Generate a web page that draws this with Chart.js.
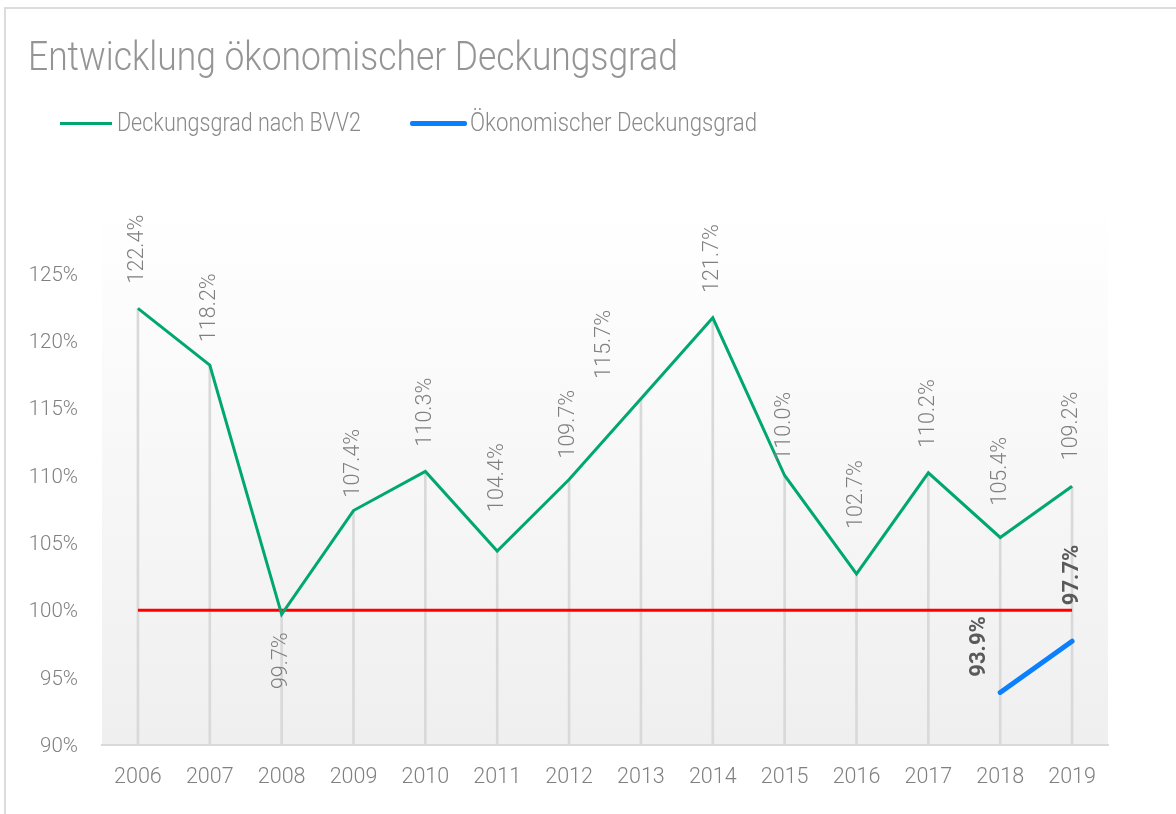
<!DOCTYPE html>
<html><head><meta charset="utf-8">
<script src="https://cdn.jsdelivr.net/npm/chart.js@4.4.1/dist/chart.umd.min.js"></script>
<style>
html,body{margin:0;padding:0;background:#fff;overflow:hidden;}
#wrap{position:relative;width:1176px;height:814px;overflow:hidden;}
#frame{position:absolute;left:4px;top:7px;width:1300px;height:900px;border-top:2px solid #dcdcdc;border-left:2px solid #dcdcdc;}
canvas{position:absolute;left:0;top:0;}
.t{position:absolute;font-family:Roboto,"Open Sans",sans-serif;font-weight:300;white-space:nowrap;transform-origin:0 0;}
#title{left:28px;top:37px;font-size:40px;line-height:40px;color:#959595;}
.lg{top:110px;font-size:25px;line-height:25px;color:#8a8a8a;}
.sw{position:absolute;}
</style></head>
<body><div id="wrap"><div id="frame"></div><canvas id="c" width="1176" height="814"></canvas>
<div id="title" class="t">Entwicklung ökonomischer Deckungsgrad</div>
<div class="sw" style="left:60px;top:122px;width:52px;height:3px;background:#00a870"></div>
<div id="lg1" class="t lg" style="left:117px">Deckungsgrad nach BVV2</div>
<div class="sw" style="left:410px;top:121px;width:57px;height:5px;background:#0a80ff;border-radius:2px"></div>
<div id="lg2" class="t lg" style="left:470px">Ökonomischer Deckungsgrad</div>
</div>
<script>
// ---- data ----
const years = ['2006','2007','2008','2009','2010','2011','2012','2013','2014','2015','2016','2017','2018','2019'];
const deckungsgradBVV2 = [122.4,118.2,99.7,107.4,110.3,104.4,109.7,115.7,121.7,110.0,102.7,110.2,105.4,109.2];
const oekonomischerDeckungsgrad = [null,null,null,null,null,null,null,null,null,null,null,null,93.9,97.7];
const referenzlinie = [100,100,100,100,100,100,100,100,100,100,100,100,100,100];
const yMin = 90, yMax = 130, yStep = 5;

function fitWidth(id, target){
  const el = document.getElementById(id);
  const w = el.getBoundingClientRect().width;
  el.style.transform = 'scaleX(' + (target / w) + ')';
}
fitWidth('title', 650);
fitWidth('lg1', 244);
fitWidth('lg2', 287);

const bgPlugin = {
  id: 'bgGrad',
  beforeDraw(chart){
    const a = chart.chartArea, ctx = chart.ctx;
    const g = ctx.createLinearGradient(0, a.top, 0, a.bottom);
    g.addColorStop(0, '#ffffff');
    g.addColorStop(1, '#efefef');
    ctx.save(); ctx.fillStyle = g;
    ctx.fillRect(a.left, a.top, a.right - a.left, a.bottom - a.top);
    ctx.restore();
  }
};

const vLabels = {
  id: 'vLabels',
  afterDatasetsDraw(chart){
    const ctx = chart.ctx;
    chart.data.datasets.forEach((ds, di) => {
      const cfg = ds.vlabel; if (!cfg) return;
      const meta = chart.getDatasetMeta(di);
      meta.data.forEach((pt, i) => {
        const v = ds.data[i]; if (v == null) return;
        const p = Object.assign({}, cfg.def, (cfg.place && cfg.place[i]) || {});
        ctx.save();
        ctx.font = cfg.font; ctx.fillStyle = cfg.color;
        ctx.translate(pt.x + (p.dx || 0), pt.y + p.dy);
        ctx.rotate(-Math.PI / 2);
        ctx.textAlign = p.align; ctx.textBaseline = 'middle';
        ctx.fillText(v.toFixed(1) + '%', 0, 0);
        ctx.restore();
      });
    });
  }
};

new Chart(document.getElementById('c'), {
  data: {
    labels: years,
    datasets: [
      { type:'line', label:'Ökonomischer Deckungsgrad', data: oekonomischerDeckungsgrad,
        borderColor:'#0a80ff', borderWidth:5, pointRadius:0, borderCapStyle:'round', order:0,
        vlabel:{ font:'700 22px Roboto', color:'#595959', def:{dy:-36, align:'left'},
                 place:{12:{dx:-21, dy:-46, align:'center'}} } },
      { type:'line', label:'Deckungsgrad nach BVV2', data: deckungsgradBVV2,
        borderColor:'#00a870', borderWidth:3, pointRadius:0, tension:0, order:1,
        vlabel:{ font:'300 21.5px Roboto', color:'#7f7f7f', def:{dy:-25, align:'left'},
                 place:{1:{dy:-23}, 2:{dy:18, align:'right'}, 3:{dy:-13}, 5:{dy:-39}, 6:{dy:-21},
                        7:{dx:-36, dy:-20}, 9:{dy:-15}, 10:{dy:-45}, 12:{dy:-32}, 13:{dy:-26}} } },
      { type:'line', label:'100%', data: referenzlinie,
        borderColor:'#ff0000', borderWidth:3, pointRadius:0, order:2 },
      { type:'bar', label:'drop', data: deckungsgradBVV2.map(v => [yMin, v]),
        backgroundColor:'#d9d9d9', barThickness:2, order:3 }
    ]
  },
  options: {
    responsive:false, animation:false, devicePixelRatio:1,
    layout:{ padding:{ top:206, right:68, left:0, bottom:0 } },
    plugins:{ legend:{display:false}, title:{display:false}, tooltip:{enabled:false} },
    scales:{
      x:{ offset:true, grid:{display:false, drawTicks:false},
          border:{display:true, color:'#d9d9d9', width:2},
          ticks:{ color:'#808080', font:{family:'Roboto', weight:'300', size:21.5}, padding:20, maxRotation:0 },
          afterFit(s){ s.height = 69; } },
      y:{ min:yMin, max:yMax, grid:{display:false, drawTicks:false}, border:{display:false},
          ticks:{ stepSize:yStep, color:'#808080', font:{family:'Roboto', weight:'300', size:20.5}, padding:24,
                  labelOffset:2, callback:v => v >= yMax ? null : v + '%' },
          afterFit(s){ s.width = 102; } }
    }
  },
  plugins:[bgPlugin, vLabels]
});
</script>
</body></html>
